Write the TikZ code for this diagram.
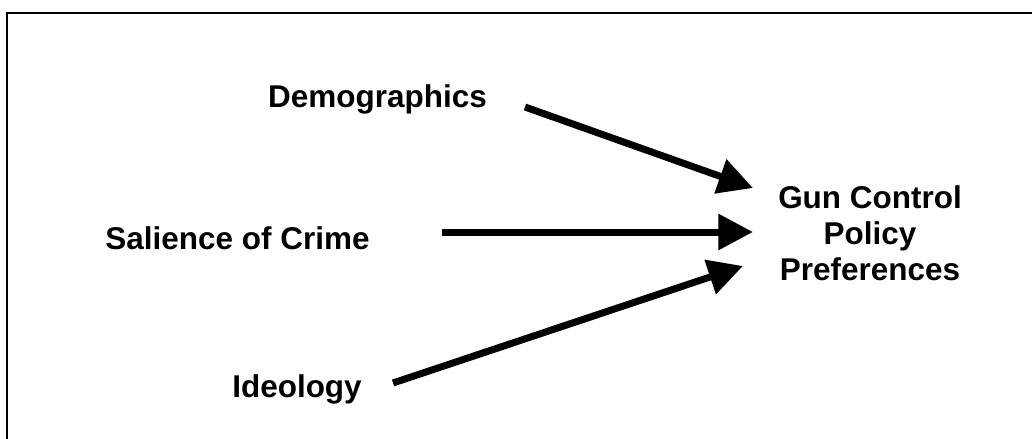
\documentclass[tikz,border=0pt]{standalone}
\usepackage{fontspec}
\setmainfont{Liberation Sans}
\usepackage{tikz}
\usetikzlibrary{arrows.meta}

\tikzset{
  factor/.style={inner sep=0.75pt, font=\fontsize{23.6}{27}\selectfont\bfseries},
  path arrow/.style={line width=5.25pt, -{Triangle[length=26pt,width=26pt]}}
}

\begin{document}
\begin{tikzpicture}[x=0.75pt,y=0.75pt,yscale=-1,xscale=1]
\useasboundingbox (0,0) rectangle (1032,439);

%Shape: Frame (only top and left sides show)
\draw [line width=1.5pt]  (7,439) -- (7,13) -- (1032,13) ;

% Text Node
\node (demo) [factor, anchor=base] at (377.5,107) {Demographics};
% Text Node
\node (crime) [factor, anchor=base] at (237.5,249) {Salience of Crime};
% Text Node
\node (ideo) [factor, anchor=base] at (297,397) {Ideology};
% Text Node
\node (gun) [factor, align=center] at (870,233) {Gun Control\\Policy\\Preferences};

% arrow ends
\coordinate (demoOut) at (525,107);
\coordinate (crimeOut) at (442,232);
\coordinate (ideoOut) at (393,383);
\coordinate (gunA) at (753,188);
\coordinate (gunB) at (753,232);
\coordinate (gunC) at (743,266);

%Straight Lines
\draw [path arrow]  (demoOut) -- (gunA) ;
%Straight Lines
\draw [path arrow]  (crimeOut) -- (gunB) ;
%Straight Lines
\draw [path arrow]  (ideoOut) -- (gunC) ;

\end{tikzpicture}
\end{document}
